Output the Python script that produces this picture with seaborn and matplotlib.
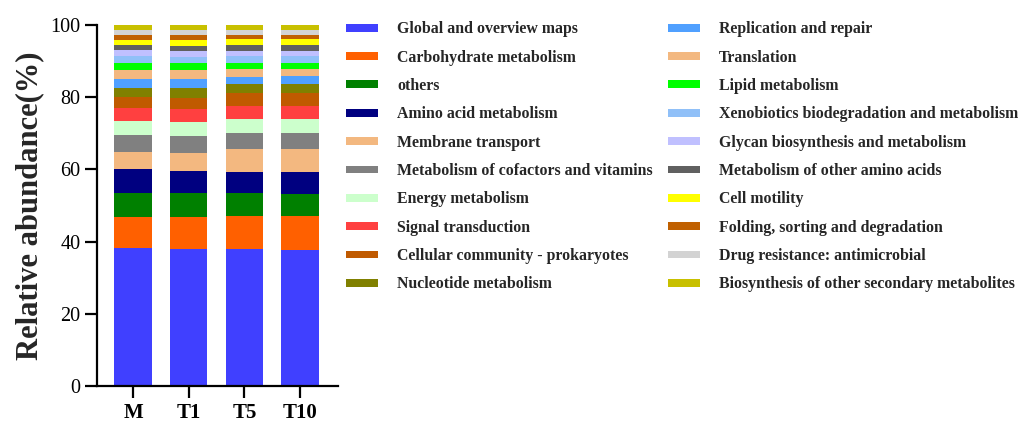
import matplotlib
matplotlib.use("Agg")
import matplotlib.pyplot as plt
from matplotlib.patches import Patch
import numpy as np
import pandas as pd
import seaborn as sns

# Samples and KEGG level-2 pathway categories (stacked bottom to top)
samples = ["M", "T1", "T5", "T10"]
categories = [
    "Global and overview maps",
    "Carbohydrate metabolism",
    "others",
    "Amino acid metabolism",
    "Membrane transport",
    "Metabolism of cofactors and vitamins",
    "Energy metabolism",
    "Signal transduction",
    "Cellular community - prokaryotes",
    "Nucleotide metabolism",
    "Replication and repair",
    "Translation",
    "Lipid metabolism",
    "Xenobiotics biodegradation and metabolism",
    "Glycan biosynthesis and metabolism",
    "Metabolism of other amino acids",
    "Cell motility",
    "Folding, sorting and degradation",
    "Drug resistance: antimicrobial",
    "Biosynthesis of other secondary metabolites",
]

# Relative abundance (%) of each category, one list per sample
abund_M = [38.3, 8.6, 6.7, 6.4, 4.9, 4.6, 3.9, 3.5, 3.1, 2.6,
           2.5, 2.4, 2.0, 1.8, 1.7, 1.5, 1.4, 1.4, 1.4, 1.3]
abund_T1 = [38.0, 8.7, 6.8, 6.1, 5.0, 4.7, 3.9, 3.5, 3.1, 2.7,
            2.5, 2.5, 1.9, 1.8, 1.6, 1.5, 1.5, 1.5, 1.4, 1.3]
abund_T5 = [37.9, 9.3, 6.2, 6.0, 6.3, 4.3, 3.9, 3.7, 3.5, 2.5,
            2.1, 2.1, 1.7, 1.8, 1.6, 1.5, 1.8, 1.1, 1.4, 1.3]
abund_T10 = [37.8, 9.3, 6.2, 6.0, 6.4, 4.3, 3.9, 3.7, 3.5, 2.6,
             2.1, 2.0, 1.8, 1.7, 1.6, 1.5, 1.7, 1.2, 1.4, 1.3]

colors = [
    "#4040FF", "#FF6000", "#008000", "#000080", "#F3B880",
    "#808080", "#CCFFCC", "#FF4040", "#C05A00", "#808000",
    "#50A0FF", "#F3B880", "#00FF00", "#90C0F8", "#C0C0FF",
    "#606060", "#FFFF00", "#C06000", "#D3D3D3", "#C8C000",
]

df = pd.DataFrame({"M": abund_M, "T1": abund_T1, "T5": abund_T5, "T10": abund_T10},
                  index=categories)
cum = df.cumsum(axis=0)

sns.set_style("ticks")
plt.rcParams["font.family"] = ["Liberation Serif", "DejaVu Serif"]

fig = plt.figure(figsize=(10.24, 4.25), dpi=100)
ax = fig.add_axes([97 / 1024, 1 - 386 / 425, 241 / 1024, 361 / 425])

# Stacked bars: draw cumulative totals from the top layer down
for cat, col in reversed(list(zip(categories, colors))):
    layer = pd.DataFrame({"sample": samples, "value": cum.loc[cat, samples].values})
    sns.barplot(data=layer, x="sample", y="value", order=samples, color=col,
                width=0.67, saturation=1, linewidth=0, ax=ax)

ax.set_xlim(-0.647, 3.68)
ax.set_ylim(0, 100)
ax.set_yticks([0, 20, 40, 60, 80, 100])
ax.set_xlabel("")
ax.set_ylabel("Relative abundance(%)", fontsize=22, fontweight="bold", labelpad=4)
for s in ["top", "right"]:
    ax.spines[s].set_visible(False)
for s in ["left", "bottom"]:
    ax.spines[s].set_linewidth(1.6)
    ax.spines[s].set_color("black")
ax.tick_params(axis="both", direction="out", length=8.5, width=1.6, colors="black")
ax.tick_params(axis="y", labelsize=14.5)
ax.tick_params(axis="x", labelsize=15)
for lab in ax.get_xticklabels():
    lab.set_fontweight("bold")

handles = [Patch(facecolor=c, edgecolor="none", label=l) for c, l in zip(colors, categories)]
fig.legend(handles=handles, ncol=2, loc="upper left",
           bbox_to_anchor=(340 / 1024, 1 - 15 / 425),
           frameon=False, prop={"family": "Liberation Serif", "weight": "bold", "size": 11.4},
           handlelength=2.0, handleheight=0.38, handletextpad=1.2,
           labelspacing=0.78, columnspacing=1.0, borderaxespad=0)

fig.savefig("out.png", dpi=100)
